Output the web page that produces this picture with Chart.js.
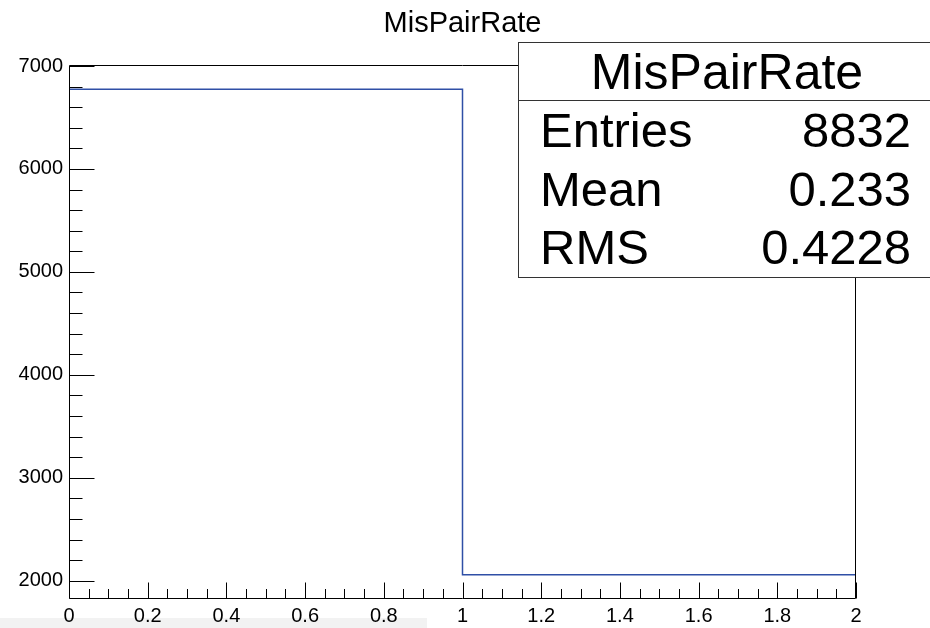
<!DOCTYPE html>
<html>
<head>
<meta charset="utf-8">
<script src="https://cdn.jsdelivr.net/npm/chart.js@4.4.1/dist/chart.umd.min.js"></script>
<style>
  html, body { margin: 0; padding: 0; background: #fff; }
  #wrap { position: relative; width: 930px; height: 628px; overflow: hidden; font-family: "Liberation Sans", Arial, Helvetica, sans-serif; color: #000; }
  #band { position: absolute; left: 0; top: 618px; width: 427px; height: 10px; background: #f2f2f2; }
  #chartBox { position: absolute; left: 0; top: 0; width: 930px; height: 628px; }
  #title { position: absolute; left: 0; width: 925px; top: 8px; font-size: 29px; line-height: 29px; text-align: center; }
  #stats { position: absolute; left: 518px; top: 42px; width: 430px; box-sizing: border-box; border: 1px solid #333; background: #fff; }
  #stats .head { height: 57px; line-height: 59px; font-size: 50px; text-align: center; border-bottom: 1px solid #333; padding-right: 12px; }
  #stats .row { height: 58.5px; line-height: 59px; font-size: 49px; display: flex; justify-content: space-between; padding: 0 36px 0 21px; }
</style>
</head>
<body>
<div id="wrap">
  <div id="band"></div>
  <div id="chartBox"><canvas id="histChart"></canvas></div>
  <div id="title">MisPairRate</div>
  <div id="stats">
    <div class="head">MisPairRate</div>
    <div class="row"><span>Entries</span><span>8832</span></div>
    <div class="row"><span>Mean</span><span>0.233</span></div>
    <div class="row"><span>RMS</span><span>0.4228</span></div>
  </div>
</div>
<script>
// ── Data ──
const binEdges  = [0, 1, 2];
const binCounts = [6774, 2058];
const xTickValues = [0, 0.2, 0.4, 0.6, 0.8, 1, 1.2, 1.4, 1.6, 1.8, 2];
const yTickValues = [2000, 3000, 4000, 5000, 6000, 7000];
const xMinorStep = 0.05;
const yMinorStep = 200;

// ROOT-style y range: 5% margin around min/max
const cMax = Math.max(...binCounts), cMin = Math.min(...binCounts);
const yMin = cMin - 0.05 * (cMax - cMin);
const yMax = cMax + 0.05 * (cMax - cMin);

// histogram outline
const outline = [];
binCounts.forEach((c, i) => {
  outline.push({ x: binEdges[i], y: c });
  outline.push({ x: binEdges[i + 1], y: c });
});

const FONT = "'Liberation Sans', Arial, Helvetica, sans-serif";

// frame + inward ticks, ROOT look
const rootAxes = {
  id: "rootAxes",
  afterDatasetsDraw(chart) {
    const { ctx, chartArea: a, scales: { x, y } } = chart;
    const L = Math.round(a.left) + 0.5, R = Math.round(a.right) - 0.5;
    const T = Math.round(a.top) + 0.5, B = Math.round(a.bottom) - 0.5;
    ctx.save();
    ctx.strokeStyle = "#000";
    ctx.lineWidth = 1;
    ctx.beginPath();
    ctx.rect(L, T, R - L, B - T);

    const nx = Math.round((x.max - x.min) / xMinorStep);
    for (let i = 0; i <= nx; i++) {
      const px = Math.round(x.getPixelForValue(x.min + i * xMinorStep)) + 0.5;
      const len = i % 4 === 0 ? 16 : 9.5;
      ctx.moveTo(px, B); ctx.lineTo(px, B - len);
    }
    for (let v = Math.ceil(y.min / yMinorStep) * yMinorStep; v <= y.max; v += yMinorStep) {
      const py = Math.round(y.getPixelForValue(v)) + 0.5;
      const len = v % 1000 === 0 ? 25 : 13;
      ctx.moveTo(L, py); ctx.lineTo(L + len, py);
    }
    ctx.stroke();
    ctx.restore();
  }
};

new Chart(document.getElementById("histChart"), {
  type: "line",
  data: {
    datasets: [{
      data: outline,
      borderColor: "#2f4fa6",
      borderWidth: 1.5,
      pointRadius: 0,
      fill: false,
      tension: 0
    }]
  },
  options: {
    responsive: true,
    maintainAspectRatio: false,
    animation: false,
    layout: { padding: { top: 65, right: 74, left: 0, bottom: 0 } },
    plugins: { legend: { display: false }, tooltip: { enabled: false } },
    scales: {
      x: {
        type: "linear", min: 0, max: 2,
        afterBuildTicks: s => { s.ticks = xTickValues.map(v => ({ value: v })); },
        afterFit: s => { s.height = 29; },
        grid: { display: false, drawTicks: false },
        border: { display: false },
        ticks: {
          color: "#000", padding: 5, maxRotation: 0, autoSkip: false,
          font: { family: FONT, size: 20 },
          callback: v => String(+v.toFixed(2))
        }
      },
      y: {
        type: "linear", min: yMin, max: yMax,
        afterBuildTicks: s => { s.ticks = yTickValues.map(v => ({ value: v })); },
        afterFit: s => { s.width = 69; },
        grid: { display: false, drawTicks: false },
        border: { display: false },
        ticks: {
          color: "#000", padding: 6, autoSkip: false,
          font: { family: FONT, size: 20 },
          callback: v => String(v)
        }
      }
    }
  },
  plugins: [rootAxes]
});
</script>
</body>
</html>
